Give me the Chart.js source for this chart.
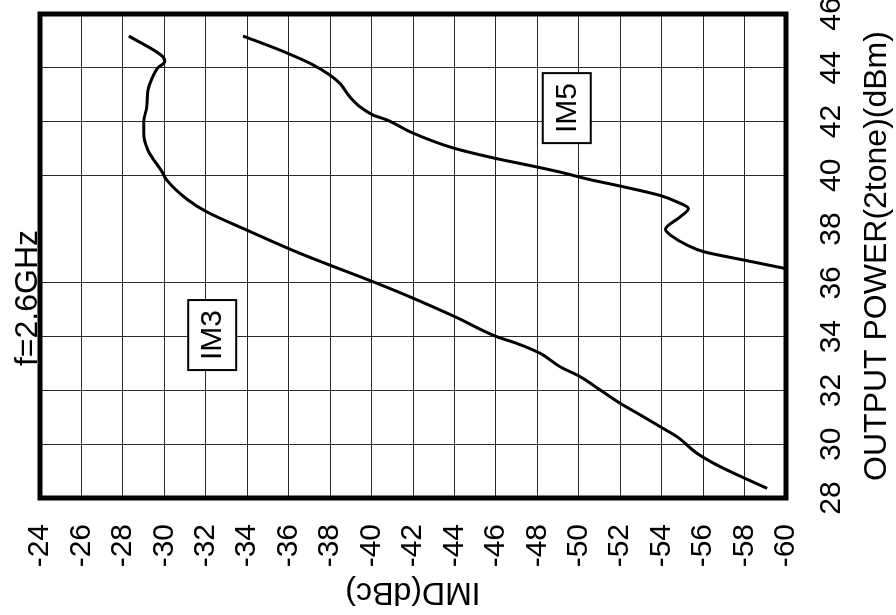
<!DOCTYPE html>
<html><head><meta charset="utf-8">
<script src="https://cdn.jsdelivr.net/npm/chart.js@4.4.0/dist/chart.umd.min.js"></script>
<style>
html,body{margin:0;padding:0;background:#fff;overflow:hidden;width:896px;height:615px;}
#wrap{position:absolute;left:0;top:0;width:615px;height:896px;transform-origin:0 0;transform:translate(0px,615px) rotate(-90deg);}
canvas{display:block;}
</style></head><body>
<div id="wrap"><canvas id="c" width="615" height="896"></canvas></div>
<script>
// ---- data ----
const powerTicks = [28, 30, 32, 34, 36, 38, 40, 42, 44, 46];
const imdTicks = [-60, -58, -56, -54, -52, -50, -48, -46, -44, -42, -40, -38, -36, -34, -32, -30, -28, -26, -24];

const im3Power = [28.36, 28.92, 29.29, 29.66, 30.28, 30.65, 31.09, 31.52, 32.02, 32.51, 32.88, 33.38, 33.75, 34.00, 34.74, 35.43, 36.04, 36.66, 37.10, 37.97, 38.65, 39.09, 39.83, 40.08, 40.94, 41.56, 41.99, 42.55, 43.17, 43.55, 43.99, 44.23, 44.41, 45.18];
const im3Imd   = [-59.09, -57.48, -56.51, -55.71, -54.74, -53.93, -52.97, -52.00, -51.03, -50.07, -49.10, -48.14, -47.01, -46.04, -44.03, -42.01, -40.08, -37.99, -36.54, -33.96, -32.03, -31.13, -30.11, -29.93, -29.21, -29.01, -29.01, -29.15, -29.21, -29.37, -29.68, -30.02, -29.93, -28.29];

const im5Power = [36.53, 36.85, 37.16, 37.41, 37.78, 37.99, 38.46, 38.77, 39.01, 39.25, 39.60, 39.84, 40.12, 40.31, 40.65, 41.02, 41.57, 42.06, 42.24, 42.55, 42.92, 43.42, 43.73, 44.17, 44.66, 45.18];
const im5Imd   = [-60.00, -57.96, -56.03, -55.22, -54.42, -54.18, -54.90, -55.29, -54.75, -53.93, -52.00, -50.55, -49.10, -47.99, -45.87, -43.93, -42.00, -40.74, -40.08, -39.44, -38.95, -38.47, -37.99, -37.02, -35.57, -33.80];

const curveNames = ['IM3', 'IM5'];
const labelPower = [34.06, 42.50];
const labelImd = [-32.31, -49.42];
const noteText = 'f=2.6GHz';
const xTitle = 'OUTPUT POWER(2tone)(dBm)';
const yTitle = 'IMD(dBc)';
const missingGrid = [38];

const FONT = 'Liberation Sans';

const toPts = (xs, ys) => xs.map((x, i) => ({x: x, y: ys[i]}));

const decorPlugin = {
  id: 'decor',
  afterDatasetsDraw(chart) {
    const {ctx, chartArea: a, scales} = chart;
    ctx.save();
    // frame
    ctx.strokeStyle = '#000';
    ctx.lineWidth = 5;
    ctx.strokeRect(a.left, a.top, a.right - a.left, a.bottom - a.top);
    // curve labels in boxes
    ctx.font = '30px "' + FONT + '"';
    ctx.textAlign = 'center';
    ctx.textBaseline = 'middle';
    curveNames.forEach((name, i) => {
      const px = scales.x.getPixelForValue(labelPower[i]);
      const py = scales.y.getPixelForValue(labelImd[i]);
      const w = 70, h = 48;
      ctx.fillStyle = '#fff';
      ctx.fillRect(px - w / 2, py - h / 2, w, h);
      ctx.lineWidth = 2;
      ctx.strokeStyle = '#000';
      ctx.strokeRect(px - w / 2, py - h / 2, w, h);
      ctx.fillStyle = '#000';
      ctx.fillText(name, px, py + 1);
    });
    // note
    ctx.font = '32px "' + FONT + '"';
    ctx.textBaseline = 'alphabetic';
    ctx.fillStyle = '#000';
    ctx.fillText(noteText, a.left + 200, a.top - 3);
    ctx.restore();
  }
};

new Chart(document.getElementById('c'), {
  type: 'scatter',
  data: {
    datasets: [
      {label: curveNames[0], data: toPts(im3Power, im3Imd), showLine: true, borderColor: '#000', borderWidth: 3, pointRadius: 0, cubicInterpolationMode: 'monotone', fill: false},
      {label: curveNames[1], data: toPts(im5Power, im5Imd), showLine: true, borderColor: '#000', borderWidth: 3, pointRadius: 0, cubicInterpolationMode: 'monotone', fill: false}
    ]
  },
  options: {
    responsive: false,
    animation: false,
    layout: {padding: {top: 40, right: 14, bottom: 0, left: 0}},
    plugins: {legend: {display: false}, tooltip: {enabled: false}, title: {display: false}},
    scales: {
      x: {
        type: 'linear', position: 'bottom', min: 28, max: 46,
        afterBuildTicks: s => { s.ticks = powerTicks.map(v => ({value: v})); },
        afterFit: s => { s.height = 110; s.paddingLeft = 0; s.paddingRight = 0; },
        ticks: {autoSkip: false, maxRotation: 0, minRotation: 0, color: '#000', padding: 28,
          font: {family: FONT, size: 30}, callback: v => String(v)},
        grid: {color: c => (c.tick && missingGrid.includes(c.tick.value)) ? 'rgba(0,0,0,0)' : '#2a2a2a', lineWidth: 1, drawTicks: false},
        border: {display: false},
        title: {display: true, text: xTitle, color: '#000', font: {family: FONT, size: 32}, padding: {top: 0, bottom: 0}}
      },
      y: {
        type: 'linear', position: 'left', min: -60, max: -24,
        afterBuildTicks: s => { s.ticks = imdTicks.map(v => ({value: v})); },
        afterFit: s => { s.width = 117; s.paddingTop = 0; s.paddingBottom = 0; },
        ticks: {autoSkip: false, color: '#000', padding: 26,
          font: {family: FONT, size: 30}, callback: v => String(v)},
        grid: {color: '#2a2a2a', lineWidth: 1, drawTicks: false},
        border: {display: false},
        title: {display: true, text: yTitle, color: '#000', font: {family: FONT, size: 32}, padding: {top: 4, bottom: 0}}
      }
    }
  },
  plugins: [decorPlugin]
});
</script>
</body></html>
